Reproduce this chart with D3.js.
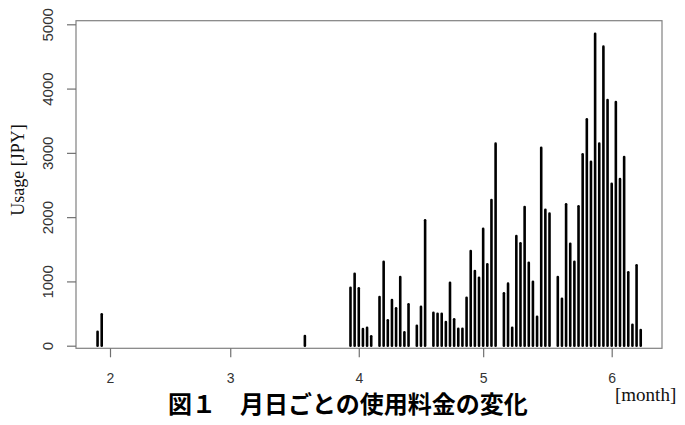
<!DOCTYPE html>
<html>
<head>
<meta charset="utf-8">
<script src="https://cdnjs.cloudflare.com/ajax/libs/d3/7.8.5/d3.min.js"></script>
<style>
  body { margin: 0; background: #fff; }
  svg { display: block; }
</style>
</head>
<body>
<svg id="chart"></svg>
<script>
// daily usage (JPY)
const days = [
  "2016-01-29", "2016-01-30", "2016-03-19",
  "2016-03-30", "2016-03-31", "2016-04-01", "2016-04-02", "2016-04-03", "2016-04-04",
  "2016-04-06", "2016-04-07", "2016-04-08", "2016-04-09", "2016-04-10", "2016-04-11",
  "2016-04-12", "2016-04-13", "2016-04-15", "2016-04-16", "2016-04-17",
  "2016-04-19", "2016-04-20", "2016-04-21", "2016-04-22", "2016-04-23", "2016-04-24",
  "2016-04-25", "2016-04-26", "2016-04-27", "2016-04-28", "2016-04-29", "2016-04-30",
  "2016-05-01", "2016-05-02", "2016-05-03", "2016-05-04",
  "2016-05-06", "2016-05-07", "2016-05-08", "2016-05-09", "2016-05-10", "2016-05-11",
  "2016-05-12", "2016-05-13", "2016-05-14", "2016-05-15", "2016-05-16", "2016-05-17",
  "2016-05-19", "2016-05-20", "2016-05-21", "2016-05-22", "2016-05-23", "2016-05-24",
  "2016-05-25", "2016-05-26", "2016-05-27", "2016-05-28", "2016-05-29", "2016-05-30",
  "2016-05-31", "2016-06-01", "2016-06-02", "2016-06-03", "2016-06-04", "2016-06-05",
  "2016-06-06", "2016-06-07", "2016-06-08"
];
const usage = [
  218, 488, 151,
  902, 1120, 893, 260, 280, 146,
  758, 1307, 395, 711, 582, 1069,
  208, 644, 311, 607, 1951,
  513, 498, 498, 369, 980, 411,
  264, 264, 747, 1473, 1162, 1058,
  1820, 1266, 2267, 3143,
  815, 965, 280, 1707, 1593, 2158,
  1291, 996, 451, 3080, 2116, 2054,
  1069, 731, 2200, 1587, 1307, 2169,
  2978, 3522, 2862, 4854, 3143, 4652,
  3822, 2520, 3791, 2593, 2936, 1142,
  327, 1251, 244
];
const monthTicks = ["2016-02-01", "2016-03-01", "2016-04-01", "2016-05-01", "2016-06-01"];
const yTicks = [0, 1000, 2000, 3000, 4000, 5000];

const width = 685, height = 425;
const box = { left: 76, right: 662, top: 20.7, bottom: 348.3 };
const parseDay = d3.utcParse("%Y-%m-%d");

document.addEventListener("DOMContentLoaded", function () {
  drawChart();
});

function drawChart() {
  const svg = d3.select("#chart").attr("width", width).attr("height", height);

  const xScale = d3.scaleUtc()
    .domain([parseDay("2016-02-01"), parseDay("2016-06-01")])
    .range([110, 611.7]);
  const yScale = d3.scaleLinear().domain([0, 5000]).range([345.7, 24.3]);

  const data = days.map((d, i) => ({ day: parseDay(d), value: usage[i] }));

  // plot frame
  svg.append("rect")
    .attr("x", box.left)
    .attr("y", box.top)
    .attr("width", box.right - box.left)
    .attr("height", box.bottom - box.top)
    .attr("fill", "none")
    .attr("stroke", "#808080")
    .attr("stroke-width", 1.2);

  // x axis (month number)
  const xAxis = svg.append("g")
    .attr("transform", `translate(0, ${box.bottom})`)
    .call(d3.axisBottom(xScale)
      .tickValues(monthTicks.map(parseDay))
      .tickFormat(d3.utcFormat("%-m"))
      .tickSize(9)
      .tickPadding(16));
  xAxis.select(".domain").remove();
  xAxis.selectAll("line").attr("stroke", "#707070").attr("stroke-width", 1.2);
  xAxis.selectAll("text")
    .style("font-family", "'Liberation Sans', Arial, sans-serif")
    .style("font-size", "14px")
    .attr("fill", "#333");

  // y axis, labels rotated like R's default
  const yAxis = svg.append("g")
    .attr("transform", `translate(${box.left}, 0)`)
    .call(d3.axisLeft(yScale).tickValues(yTicks).tickFormat(d3.format("d")).tickSize(9));
  yAxis.select(".domain").remove();
  yAxis.selectAll("line").attr("stroke", "#707070").attr("stroke-width", 1.2);
  yAxis.selectAll("text")
    .attr("transform", "rotate(-90)")
    .attr("x", 0)
    .attr("y", -23)
    .attr("dy", 0)
    .attr("text-anchor", "middle")
    .style("font-family", "'Liberation Sans', Arial, sans-serif")
    .style("font-size", "15px")
    .attr("fill", "#333");

  // histogram-like vertical lines
  svg.append("g")
    .selectAll("line")
    .data(data)
    .join("line")
    .attr("x1", (d) => xScale(d.day))
    .attr("x2", (d) => xScale(d.day))
    .attr("y1", yScale(0))
    .attr("y2", (d) => yScale(d.value))
    .attr("stroke", "#000")
    .attr("stroke-width", 2.6)
    .attr("stroke-linecap", "round");

  svg.append("text")
    .attr("transform", "translate(24, 170) rotate(-90)")
    .attr("text-anchor", "middle")
    .style("font-family", "'Liberation Serif', 'Times New Roman', serif")
    .style("font-size", "18px")
    .attr("fill", "#111")
    .text("Usage [JPY]");

  svg.append("text")
    .attr("x", 615)
    .attr("y", 401)
    .style("font-family", "'Liberation Serif', 'Times New Roman', serif")
    .style("font-size", "19px")
    .attr("fill", "#111")
    .text("[month]");

  svg.append("text")
    .attr("x", 348)
    .attr("y", 413)
    .attr("text-anchor", "middle")
    .style("font-family", "'Noto Sans CJK JP', sans-serif")
    .style("font-size", "24px")
    .style("font-weight", "bold")
    .attr("fill", "#000")
    .text("図１　月日ごとの使用料金の変化");
}
</script>
</body>
</html>
